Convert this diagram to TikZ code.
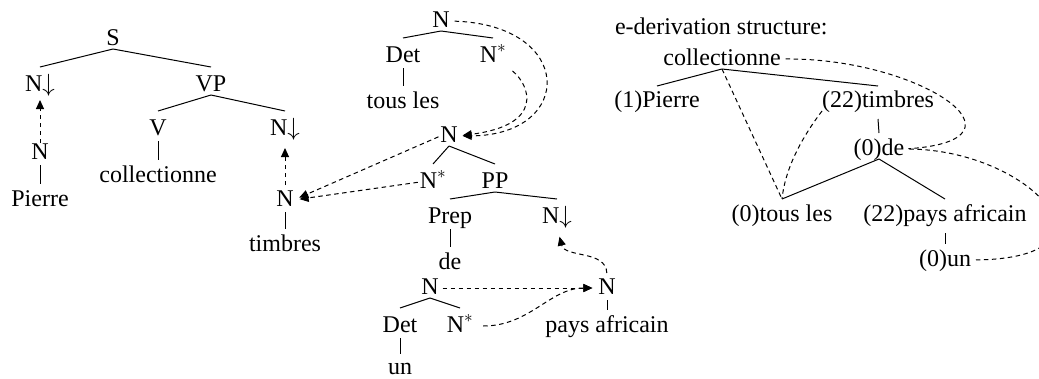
\documentclass[tikz,border=0pt]{standalone}
\usepackage{fontspec}
\setmainfont{Liberation Serif}
\usetikzlibrary{arrows.meta}
\begin{document}
\begin{tikzpicture}[x=1pt,y=-1pt,
  lab/.style={anchor=base,inner sep=0pt,outer sep=0pt,text height=16pt,text depth=4pt,font=\fontsize{24}{28}\selectfont},
  tl/.style={line width=1pt},
  dlink/.style={line width=1pt,dash pattern=on 4.5pt off 3.5pt},
  arr/.style={-{Triangle[length=9pt,width=8pt]}}]
\useasboundingbox (0,0) rectangle (1039,378);
\clip (0,0) rectangle (1039,378);
% left tree
\node[lab] (S) at (113,45) {S};
\node[lab] (n1) at (40,91) {N$\downarrow$};
\node[lab] (VP) at (211,91) {VP};
\node[lab] (V) at (158,135) {V};
\node[lab] (n2) at (285,135) {N$\downarrow$};
\node[lab] (nP) at (40,159) {N};
\node[lab] (coll) at (158,182) {collectionne};
\node[lab] (pierre) at (40,206) {Pierre};
\node[lab] (nT) at (285,206) {N};
\node[lab] (timbres) at (285,251) {timbres};
% middle trees
\node[lab] (tN) at (441,27) {N};
\node[lab] (tDet) at (403,62) {Det};
\node[lab] (tNs) at (493,62) {N$^*$};
\node[lab] (tous) at (403,108) {tous les};
\node[lab] (mN) at (449,142) {N};
\node[lab] (mNs) at (433,188) {N$^*$};
\node[lab] (PP) at (495,188) {PP};
\node[lab] (prep) at (450,223) {Prep};
\node[lab] (mNd) at (557,223) {N$\downarrow$};
\node[lab] (de) at (450,269) {de};
\node[lab] (uN) at (430,294) {N};
\node[lab] (pN) at (607,294) {N};
\node[lab] (uDet) at (400,332) {Det};
\node[lab] (uNs) at (460,332) {N$^*$};
\node[lab] (pays) at (607,332) {pays africain};
\node[lab] (un) at (400,374) {un};
% derivation structure
\node[lab,anchor=base west] (title) at (615,34) {e-derivation structure:};
\node[lab] (ec) at (722,65) {collectionne};
\node[lab] (eP) at (657,107) {(1)Pierre};
\node[lab] (eT) at (878,107) {(22)timbres};
\node[lab] (ede) at (879,155) {(0)de};
\node[lab] (etous) at (782,221) {(0)tous les};
\node[lab] (epays) at (945,221) {(22)pays africain};
\node[lab] (eun) at (945,266) {(0)un};

% tree edges
\draw[tl] (S.south) -- ([yshift=8pt]n1.north);
\draw[tl] (S.south) -- ([yshift=8pt]VP.north);
\draw[tl] (VP.south) -- ([yshift=8pt]V.north);
\draw[tl] (VP.south) -- ([yshift=8pt]n2.north);
\draw[tl] ([yshift=-2pt]V.south) -- ([yshift=6pt]coll.north);
\draw[tl] ([yshift=-2pt]nP.south) -- ([yshift=6pt]pierre.north);
\draw[tl] ([yshift=-2pt]nT.south) -- ([yshift=6pt]timbres.north);

\draw[tl] (tN.south) -- ([yshift=8pt]tDet.north);
\draw[tl] (tN.south) -- ([yshift=8pt]tNs.north);
\draw[tl] ([yshift=-2pt]tDet.south) -- ([yshift=6pt]tous.north);
\draw[tl] (mN.south) -- ([yshift=8pt]mNs.north);
\draw[tl] (mN.south) -- ([yshift=8pt]PP.north);
\draw[tl] (PP.south) -- ([yshift=8pt]prep.north);
\draw[tl] (PP.south) -- ([yshift=8pt]mNd.north);
\draw[tl] ([yshift=-2pt]prep.south) -- ([yshift=6pt]de.north);
\draw[tl] (uN.south) -- ([yshift=8pt]uDet.north);
\draw[tl] (uN.south) -- ([yshift=8pt]uNs.north);
\draw[tl] ([yshift=-2pt]uDet.south) -- ([yshift=4pt]un.north);
\draw[tl] ([yshift=-2pt]pN.south) -- ([yshift=6pt]pays.north);

\draw[tl] (ec.south) -- ([yshift=5pt]eP.north);
\draw[tl] (ec.south) -- ([yshift=5pt]eT.north);
\draw[tl] ([yshift=-8pt]eT.south) -- ([yshift=6pt]ede.north);
\draw[tl] (ede.south) -- ([yshift=6pt]etous.north);
\draw[tl] (ede.south) -- ([yshift=6pt]epays.north);
\draw[tl] ([yshift=-8pt]epays.south) -- ([yshift=6pt]eun.north);

% dashed links with arrows
\draw[dlink,arr,shorten >=5pt] (nP.north) -- (n1.south);
\draw[dlink,arr,shorten <=5pt,shorten >=9pt] (nT.north) -- (n2.south);
\draw[dlink,arr,shorten <=2pt,shorten >=6pt] (mN.west) -- (nT.east);
\draw[dlink,arr,shorten <=2pt,shorten >=6pt] (mNs.west) -- (nT.east);
\draw[dlink,arr,shorten <=5pt,shorten >=5pt] (tN.east) .. controls (575,25) and (575,135) .. (mN.east);
\draw[dlink,arr,shorten <=8pt,shorten >=5pt] (tNs.south east) .. controls (530,85) and (545,125) .. (mN.east);
\draw[dlink,arr,shorten <=5pt,shorten >=10pt] (pN.north) .. controls (606,250) and (565,258) .. (mNd.south);
\draw[dlink,arr,shorten <=4pt,shorten >=6pt] (uN.east) -- (pN.west);
\draw[dlink,arr,shorten <=10pt,shorten >=6pt] (uNs.east) .. controls (530,326) and (550,288) .. (pN.west);

% derivation dashed links
\draw[dlink] (ec.south) -- ([yshift=6pt]etous.north);
\draw[dlink] (eT.south west) .. controls (800,140) and (785,170) .. ([yshift=6pt]etous.north);
\draw[dlink,shorten <=5pt,shorten >=4pt] (ec.east) .. controls (920,58) and (1040,140) .. (ede.east);
\draw[dlink,shorten <=5pt,shorten >=5pt] (ede.east) .. controls (1030,150) and (1130,258) .. (eun.east);
\end{tikzpicture}
\end{document}
